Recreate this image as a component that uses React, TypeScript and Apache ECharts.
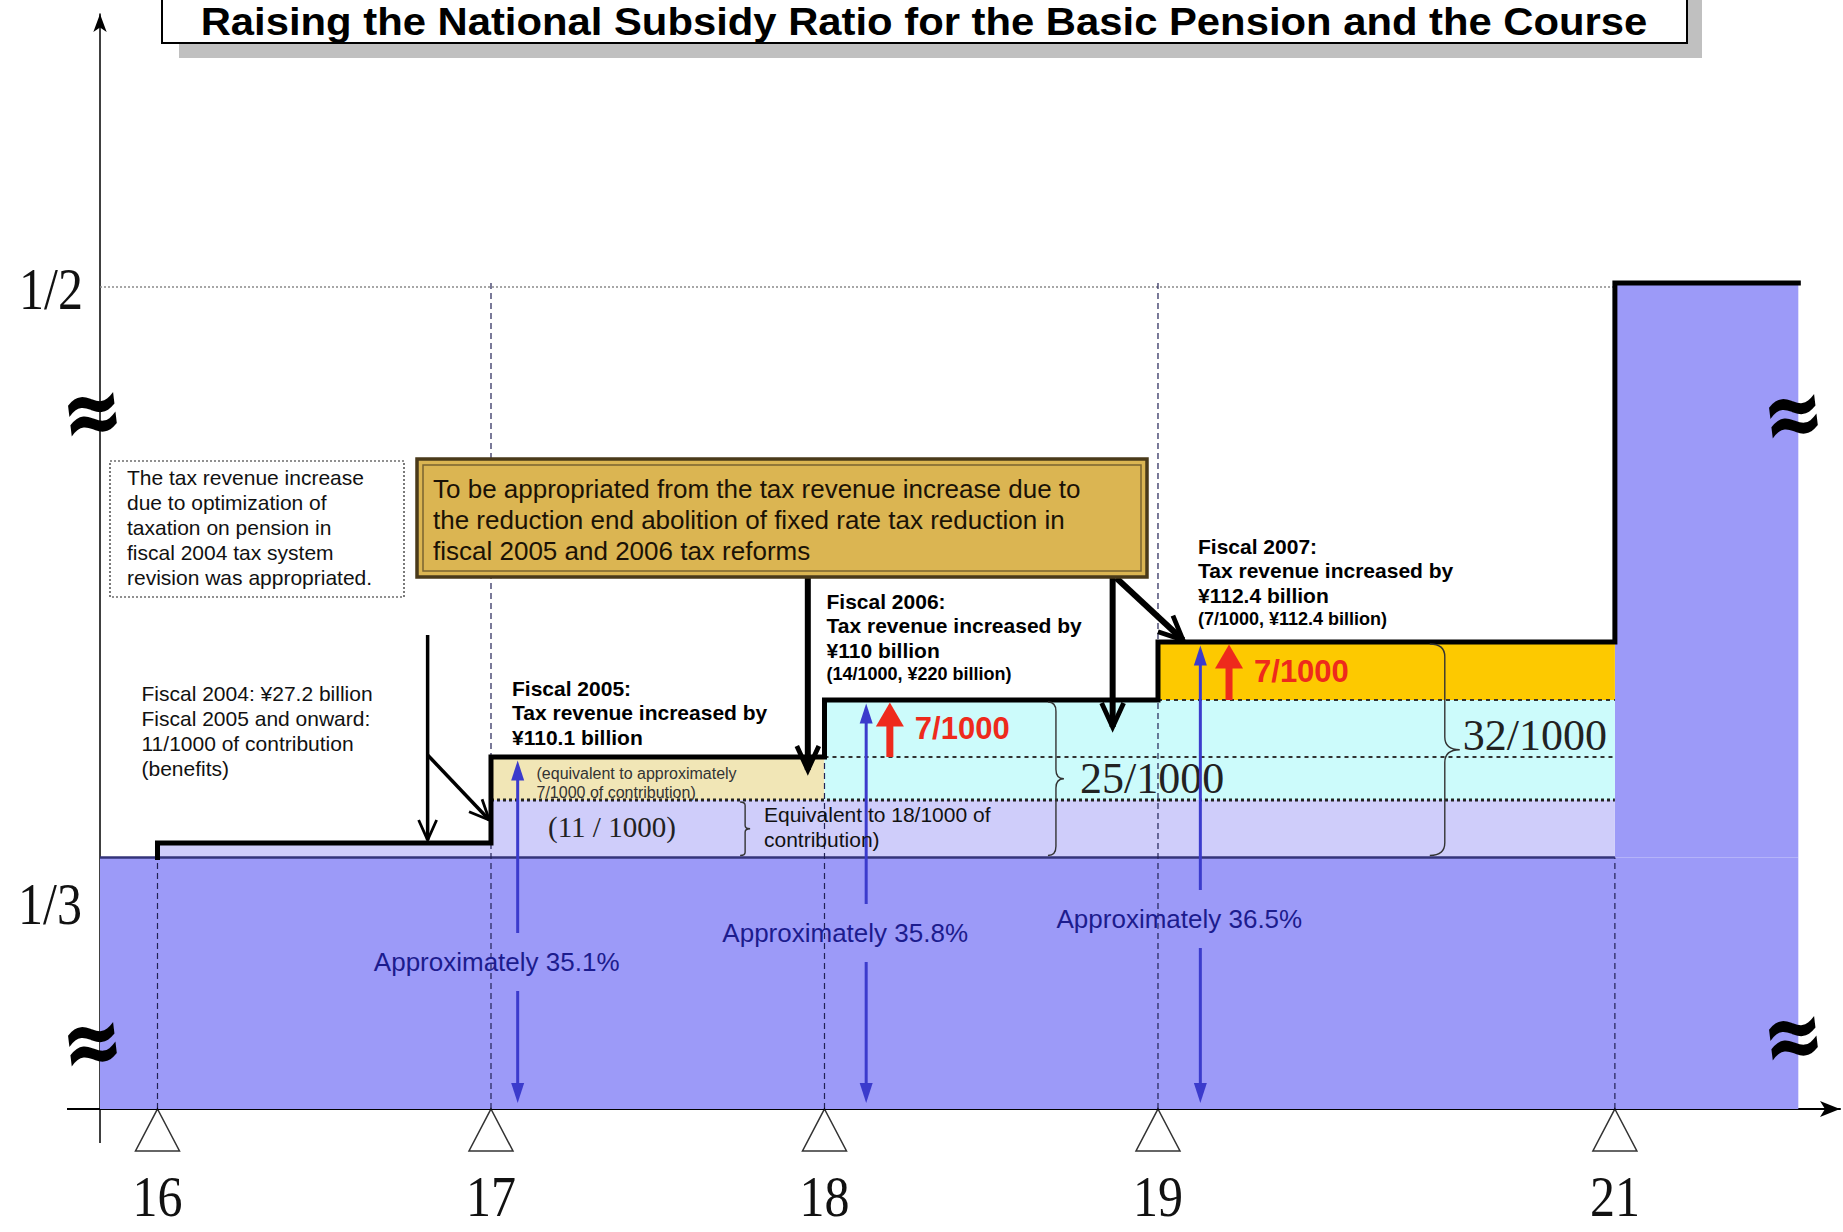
import React, { useEffect, useRef } from 'react';
import * as echarts from 'echarts';

// ---- data ----
// fiscal years (Heisei) on the horizontal axis
const fiscalYears = ['16', '17', '18', '19', '21'];
// schematic horizontal position of each fiscal year (the gap 19 -> 21 is compressed in the picture)
const yearPos = [16, 17, 18, 19, 20.37];
const xEnd = 20.92;
// schematic vertical levels (not to scale: the axis is broken below 1/3 and between ~37% and 1/2)
const levelThird = 25.15;
const levelHalf = 82.6;
const levelContrib11 = 30.9;
// top of the subsidy step at each fiscal year
const stepTop = [26.6, 35.2, 40.9, 46.7, 82.6];
// subsidy ratio reached in fiscal 2005, 2006, 2007
const ratioLabels = ['Approximately 35.1%', 'Approximately 35.8%', 'Approximately 36.5%'];
const ratioX = [17.08, 18.125, 19.127];
const ratioTop = [35.2, 40.9, 46.7];
const ratioTextY = [14.7, 17.6, 19.0];
// +7/1000 increments in fiscal 2006 and 2007
const incrementLabels = ['7/1000', '7/1000'];
const incrementX = [18.196, 19.213];
const incrementFrom = [35.2, 40.9];
const incrementTo = [40.9, 46.7];
// braces with their totals
const braceLabels = ['', '25/1000', '32/1000'];
const braceX = [17.747, 18.67, 19.815];
const braceTop = [30.9, 40.9, 46.7];

const X_MIN = 15.8276;
const X_MAX = 21.045;

const BLUE = '#9c9af8';
const LAVENDER = '#cfcdfa';
const BEIGE = '#f1e6b6';
const CYAN = '#ccfbfb';
const GOLD = '#fdc900';
const NAVY = '#1c1c8e';
const ARROW_BLUE = '#3b3bcc';
const RED = '#ee2a1c';

const SANS = '"Liberation Sans", Arial, sans-serif';
const SERIF = '"Liberation Serif", "Times New Roman", serif';

const bands = [
  { x0: X_MIN, x1: xEnd, y0: 0, y1: levelThird, fill: BLUE },
  { x0: yearPos[4], x1: xEnd, y0: levelThird, y1: levelHalf, fill: BLUE },
  { x0: yearPos[0], x1: yearPos[1], y0: levelThird, y1: stepTop[0], fill: LAVENDER },
  { x0: yearPos[1], x1: yearPos[4], y0: levelThird, y1: levelContrib11, fill: LAVENDER },
  { x0: yearPos[1], x1: yearPos[2], y0: levelContrib11, y1: stepTop[1], fill: BEIGE },
  { x0: yearPos[2], x1: yearPos[4], y0: levelContrib11, y1: stepTop[2], fill: CYAN },
  { x0: yearPos[3], x1: yearPos[4], y0: stepTop[2], y1: stepTop[3], fill: GOLD },
];

const guides = [
  { a: [X_MIN, levelThird], b: [yearPos[4], levelThird], stroke: '#34347a', width: 2.5, dash: null },
  { a: [X_MIN, levelHalf - 0.4], b: [yearPos[4], levelHalf - 0.4], stroke: '#8a8a8a', width: 1.5, dash: [2, 2] },
  { a: [yearPos[1], levelContrib11], b: [yearPos[4], levelContrib11], stroke: '#222', width: 3, dash: [3, 3] },
  { a: [yearPos[2], stepTop[1]], b: [yearPos[4], stepTop[1]], stroke: '#333', width: 2, dash: [4, 4] },
  { a: [yearPos[3], stepTop[2]], b: [yearPos[4], stepTop[2]], stroke: '#333', width: 2, dash: [4, 4] },
  { a: [yearPos[0], 0], b: [yearPos[0], stepTop[0]], stroke: '#222255', width: 1.2, dash: [6, 4] },
  { a: [yearPos[1], 0], b: [yearPos[1], levelHalf], stroke: '#222255', width: 1.2, dash: [6, 4] },
  { a: [yearPos[2], 0], b: [yearPos[2], stepTop[2]], stroke: '#222255', width: 1.2, dash: [6, 4] },
  { a: [yearPos[3], 0], b: [yearPos[3], levelHalf], stroke: '#222255', width: 1.2, dash: [6, 4] },
  { a: [yearPos[4], 0], b: [yearPos[4], levelThird], stroke: '#222255', width: 1.2, dash: [6, 4] },
];

const stepPoints: number[][] = [[yearPos[0], levelThird]];
stepTop.forEach((top, i) => {
  stepPoints.push([yearPos[i], top]);
  stepPoints.push([i < stepTop.length - 1 ? yearPos[i + 1] : xEnd, top]);
});

type Arrow = { from: number[]; to: number[]; color: string; width: number; headLen: number; headW: number; open?: boolean };
const arrows: Arrow[] = [];
ratioX.forEach((x, i) => {
  arrows.push({ from: [x, ratioTextY[i] - 2.9], to: [x, 0.6], color: ARROW_BLUE, width: 3, headLen: 20, headW: 13 });
  arrows.push({ from: [x, ratioTextY[i] + 2.9], to: [x, ratioTop[i] - 0.35], color: ARROW_BLUE, width: 3, headLen: 20, headW: 13 });
});
incrementX.forEach((x, i) => {
  arrows.push({ from: [x, incrementFrom[i]], to: [x, incrementTo[i] - 0.25], color: RED, width: 7, headLen: 24, headW: 28 });
});
// annotation arrows from the callouts
arrows.push({ from: [16.81, 47.4], to: [16.81, 26.9], color: '#000', width: 3.5, headLen: 20, headW: 18, open: true });
arrows.push({ from: [16.81, 35.4], to: [16.995, 28.9], color: '#000', width: 3.5, headLen: 20, headW: 18, open: true });
arrows.push({ from: [17.95, 53.2], to: [17.95, 33.9], color: '#000', width: 6, headLen: 24, headW: 22, open: true });
arrows.push({ from: [18.864, 53.2], to: [18.864, 38.2], color: '#000', width: 6, headLen: 24, headW: 22, open: true });
arrows.push({ from: [18.875, 53.1], to: [19.075, 46.9], color: '#000', width: 6, headLen: 24, headW: 22, open: true });

function txt(text: string, x: number, y: number, font: string, fill: string, align = 'left', extra: any = {}) {
  return {
    type: 'text', x, y, z: 100, ...extra,
    style: { text, font, fill, align, verticalAlign: 'middle', textAlign: align, textVerticalAlign: 'middle' },
  };
}
function lines(arr: string[], x: number, y0: number, dy: number, font: string, fill: string) {
  return arr.map((t, i) => txt(t, x, y0 + i * dy, font, fill));
}

export default function App() {
  const ref = useRef<HTMLDivElement>(null);
  useEffect(() => {
    if (!ref.current) return;
    const chart = echarts.init(ref.current, undefined, { renderer: 'svg' });

    const approx = (x: number, y: number) =>
      txt('≈', x, y, `bold 74px "DejaVu Sans"`, '#000', 'center', { scaleY: 1.3, rotation: 0.12 });

    const graphicEls: any[] = [
      // title
      { type: 'rect', z: 90, shape: { x: 179, y: -20, width: 1523, height: 78 }, style: { fill: '#c0c0c0' } },
      { type: 'rect', z: 91, shape: { x: 162, y: -20, width: 1525, height: 63 }, style: { fill: '#fff', stroke: '#000', lineWidth: 2 } },
      txt('Raising the National Subsidy Ratio for the Basic Pension and the Course', 924, 22, `bold 38px ${SANS}`, '#000', 'center', { scaleX: 1.1 }),
      // axis extensions
      { type: 'line', z: 50, shape: { x1: 67, y1: 1109, x2: 100, y2: 1109 }, style: { stroke: '#000', lineWidth: 2 } },
      { type: 'line', z: 50, shape: { x1: 100, y1: 1109, x2: 100, y2: 1143 }, style: { stroke: '#000', lineWidth: 1.5 } },
      // y labels
      txt('1/2', 51, 289, `50px ${SERIF}`, '#111', 'center', { scaleY: 1.2 }),
      txt('1/3', 50, 904, `50px ${SERIF}`, '#111', 'center', { scaleY: 1.2 }),
      // break marks
      approx(92, 411),
      approx(92, 1041),
      approx(1793, 413),
      approx(1793, 1035),
      // left dotted box
      { type: 'rect', z: 95, shape: { x: 110, y: 461, width: 294, height: 136 }, style: { fill: '#fff', stroke: '#222', lineWidth: 1.2, lineDash: [2, 2] } },
      ...lines(['The tax revenue increase', 'due to optimization of', 'taxation on pension in', 'fiscal 2004 tax system', 'revision was appropriated.'], 127, 477, 25, `21px ${SANS}`, '#111'),
      ...lines(['Fiscal 2004: ¥27.2 billion', 'Fiscal 2005 and onward:', '11/1000 of contribution', '(benefits)'], 141.5, 693, 25, `21px ${SANS}`, '#111'),
      // gold box
      { type: 'rect', z: 95, shape: { x: 417, y: 459, width: 730, height: 118 }, style: { fill: '#dbb552', stroke: '#4a3a1a', lineWidth: 3.5 } },
      { type: 'rect', z: 96, shape: { x: 423, y: 465, width: 718, height: 106 }, style: { fill: 'none', stroke: '#7a6330', lineWidth: 1.5 } },
      ...lines(['To be appropriated from the tax revenue increase due to', 'the reduction end abolition of fixed rate tax reduction in', 'fiscal 2005 and 2006 tax reforms'], 433, 488.5, 31, `26px ${SANS}`, '#1a1206'),
      // fiscal 2005
      ...lines(['Fiscal 2005:', 'Tax revenue increased by', '¥110.1 billion'], 512, 688, 24.5, `bold 21px ${SANS}`, '#000'),
      ...lines(['(equivalent to approximately', '7/1000 of contribution)'], 536.5, 773, 19, `16px ${SANS}`, '#333'),
      txt('(11 / 1000)', 548, 827, `29px ${SERIF}`, '#222'),
      ...lines(['Equivalent to 18/1000 of', 'contribution)'], 764, 814.6, 24.5, `21px ${SANS}`, '#111'),
      // fiscal 2006
      ...lines(['Fiscal 2006:', 'Tax revenue increased by', '¥110 billion'], 826.5, 601.7, 24.2, `bold 21px ${SANS}`, '#000'),
      txt('(14/1000, ¥220 billion)', 826.5, 673.5, `bold 18px ${SANS}`, '#000'),
      // fiscal 2007
      ...lines(['Fiscal 2007:', 'Tax revenue increased by', '¥112.4 billion'], 1198, 546, 24.5, `bold 21px ${SANS}`, '#000'),
      txt('(7/1000, ¥112.4 billion)', 1198, 618.5, `bold 18px ${SANS}`, '#000'),
    ];

    const option: any = {
      animation: false,
      backgroundColor: '#fff',
      grid: { left: 100, right: 3, top: 14, bottom: 123, containLabel: false },
      xAxis: {
        type: 'value', min: X_MIN, max: X_MAX,
        axisLine: { show: true, onZero: false, symbol: ['none', 'arrow'], symbolSize: [12, 20], lineStyle: { color: '#000', width: 2 } },
        axisTick: { show: false }, axisLabel: { show: false }, splitLine: { show: false },
      },
      yAxis: {
        type: 'value', min: 0, max: 109.5,
        axisLine: { show: true, onZero: false, symbol: ['none', 'arrow'], symbolSize: [10, 18], lineStyle: { color: '#000', width: 1.5 } },
        axisTick: { show: false }, axisLabel: { show: false }, splitLine: { show: false },
      },
      graphic: { elements: graphicEls },
      series: [
        {
          type: 'custom', name: 'bands', z: 1, clip: false, silent: true,
          data: bands.map((b) => [b.x0, b.y0]),
          renderItem: (params: any, api: any) => {
            const b = bands[params.dataIndex];
            const p0 = api.coord([b.x0, b.y1]);
            const p1 = api.coord([b.x1, b.y0]);
            return { type: 'rect', shape: { x: p0[0], y: p0[1], width: p1[0] - p0[0], height: p1[1] - p0[1] }, style: { fill: b.fill } };
          },
        },
        {
          type: 'custom', name: 'guides', z: 2, clip: false, silent: true,
          data: guides.map((g) => g.a),
          renderItem: (params: any, api: any) => {
            const g = guides[params.dataIndex];
            const a = api.coord(g.a);
            const b = api.coord(g.b);
            return { type: 'line', shape: { x1: a[0], y1: a[1], x2: b[0], y2: b[1] }, style: { stroke: g.stroke, lineWidth: g.width, lineDash: g.dash || undefined } };
          },
        },
        {
          type: 'line', name: 'subsidy', z: 3, data: stepPoints, symbol: 'none', silent: true,
          lineStyle: { color: '#000', width: 5, join: 'miter', cap: 'square' },
        },
        {
          type: 'custom', name: 'braces', z: 4, clip: false, silent: true,
          data: braceX.map((x, i) => [x, braceTop[i]]),
          renderItem: (params: any, api: any) => {
            const i = params.dataIndex;
            const w = [10, 16, 30][i];
            const top = api.coord([braceX[i], braceTop[i]]);
            const bot = api.coord([braceX[i], levelThird]);
            const children: any[] = [
              {
                type: 'path',
                shape: { pathData: 'M0,0 Q50,0 50,6 L50,44 Q50,50 100,50 Q50,50 50,56 L50,94 Q50,100 0,100', x: top[0], y: top[1] + 2, width: w, height: bot[1] - top[1] - 4, layout: 'cover' },
                style: { stroke: '#333', lineWidth: 1.4, fill: 'none' },
              },
            ];
            if (braceLabels[i]) {
              children.push({
                type: 'text', x: top[0] + w + (i === 1 ? 16 : 3), y: (top[1] + bot[1]) / 2 - (i === 2 ? 14 : 0),
                style: { text: braceLabels[i], font: `44px ${SERIF}`, fill: '#222', align: 'left', verticalAlign: 'middle', textAlign: 'left', textVerticalAlign: 'middle' },
              });
            }
            return { type: 'group', children };
          },
        },
        {
          type: 'custom', name: 'arrows', z: 5, clip: false, silent: true,
          data: arrows.map((a) => a.to),
          renderItem: (params: any, api: any) => {
            const a = arrows[params.dataIndex];
            const p1 = api.coord(a.from);
            const p2 = api.coord(a.to);
            const dx = p2[0] - p1[0];
            const dy = p2[1] - p1[1];
            const L = Math.hypot(dx, dy) || 1;
            const ux = dx / L;
            const uy = dy / L;
            const nx = -uy;
            const ny = ux;
            const bx = p2[0] - ux * a.headLen;
            const by = p2[1] - uy * a.headLen;
            const l = { x: bx + nx * a.headW / 2, y: by + ny * a.headW / 2 };
            const r = { x: bx - nx * a.headW / 2, y: by - ny * a.headW / 2 };
            const children: any[] = [];
            if (a.open) {
              children.push({ type: 'line', shape: { x1: p1[0], y1: p1[1], x2: p2[0], y2: p2[1] }, style: { stroke: a.color, lineWidth: a.width } });
              children.push({ type: 'polyline', shape: { points: [[l.x, l.y], [p2[0], p2[1]], [r.x, r.y]] }, style: { stroke: a.color, lineWidth: a.width * 0.8, fill: 'none' } });
            } else {
              children.push({ type: 'line', shape: { x1: p1[0], y1: p1[1], x2: bx + ux * 2, y2: by + uy * 2 }, style: { stroke: a.color, lineWidth: a.width } });
              children.push({ type: 'polygon', shape: { points: [[p2[0], p2[1]], [l.x, l.y], [r.x, r.y]] }, style: { fill: a.color } });
            }
            return { type: 'group', children };
          },
        },
        {
          type: 'custom', name: 'ratioLabels', z: 6, clip: false, silent: true,
          data: ratioX.map((x, i) => [x, ratioTextY[i]]),
          renderItem: (params: any, api: any) => {
            const i = params.dataIndex;
            const p = api.coord([ratioX[i], ratioTextY[i]]);
            return {
              type: 'text', x: p[0] - 21, y: p[1],
              style: { text: ratioLabels[i], font: `26px ${SANS}`, fill: NAVY, align: 'center', verticalAlign: 'middle', textAlign: 'center', textVerticalAlign: 'middle' },
            };
          },
        },
        {
          type: 'custom', name: 'incrementLabels', z: 6, clip: false, silent: true,
          data: incrementX.map((x, i) => [x, incrementFrom[i]]),
          renderItem: (params: any, api: any) => {
            const i = params.dataIndex;
            const p = api.coord([incrementX[i], (incrementFrom[i] + incrementTo[i]) / 2]);
            return {
              type: 'text', x: p[0] + 25, y: p[1],
              style: { text: incrementLabels[i], font: `bold 31px ${SANS}`, fill: RED, align: 'left', verticalAlign: 'middle', textAlign: 'left', textVerticalAlign: 'middle' },
            };
          },
        },
        {
          type: 'scatter', name: 'ticks', z: 6, clip: false, silent: true,
          data: yearPos.map((x) => [x, 0]),
          symbol: 'triangle', symbolSize: [44, 42], symbolOffset: [0, 21],
          itemStyle: { color: '#fff', borderColor: '#000', borderWidth: 1.5 },
        },
        {
          type: 'custom', name: 'yearLabels', z: 6, clip: false, silent: true,
          data: yearPos.map((x) => [x, 0]),
          renderItem: (params: any, api: any) => {
            const i = params.dataIndex;
            const p = api.coord([yearPos[i], 0]);
            return {
              type: 'text', x: p[0], y: p[1] + 88, scaleY: 1.12,
              style: { text: fiscalYears[i], font: `50px ${SERIF}`, fill: '#111', align: 'center', verticalAlign: 'middle', textAlign: 'center', textVerticalAlign: 'middle' },
            };
          },
        },
      ],
    };
    chart.setOption(option);
    return () => chart.dispose();
  }, []);
  return <div ref={ref} style={{ position: 'fixed', left: 0, top: 0, width: 1843, height: 1232, background: '#fff' }} />;
}
